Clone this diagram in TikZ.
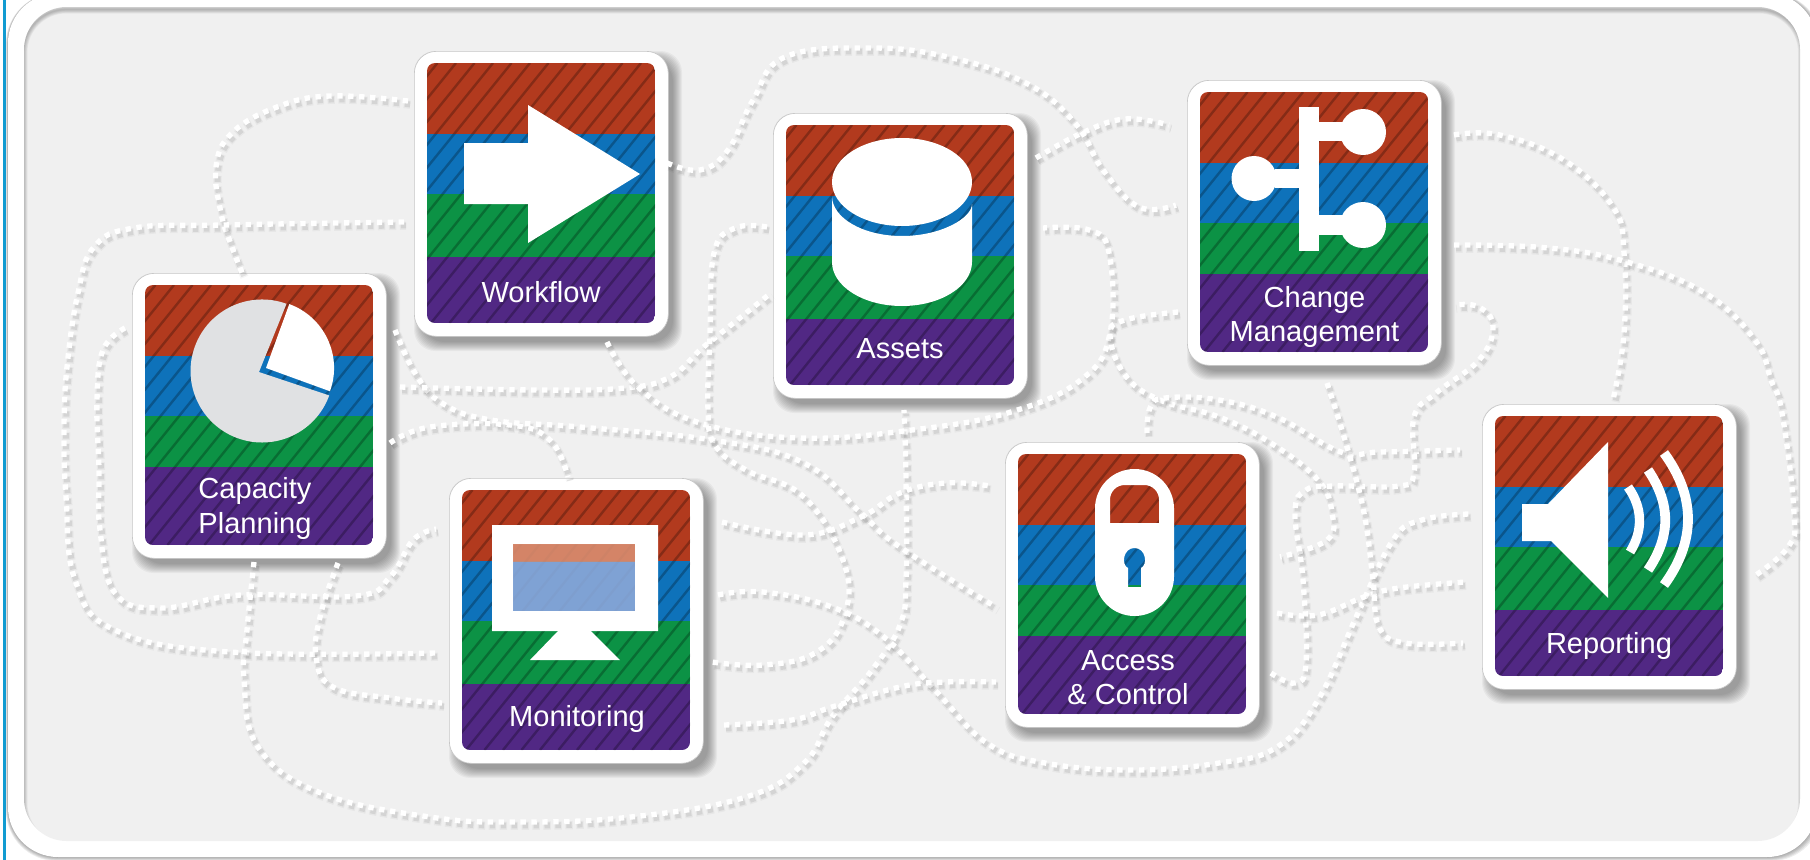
\documentclass[tikz,border=0pt]{standalone}
\usepackage{fontspec}
\setmainfont{Liberation Sans}
\definecolor{bandred}{HTML}{B23A1E}
\definecolor{bandblue}{HTML}{0E72BA}
\definecolor{bandgreen}{HTML}{0C9245}
\definecolor{bandpurple}{HTML}{512884}
\definecolor{panelgrey}{HTML}{F0F0F0}
\definecolor{piegrey}{HTML}{E0E1E3}
\definecolor{edgeblue}{HTML}{119BD1}
\definecolor{screenred}{HTML}{D98F72}
\definecolor{screenblue}{HTML}{8FA9D8}
\tikzset{
  cardnode/.style={fill=white,draw=black!22,line width=.5pt,rounded corners=16.5pt,inner sep=0pt,
    minimum width=190.5pt,minimum height=213.75pt,anchor=north west},
  cardshade/.style={fill=black,opacity=.04,rounded corners=16pt},
  stripe/.style={draw=black,opacity=.25,line width=1.8pt},
  lab/.style={text=white,inner sep=0pt,align=center,font=\fontsize{21.8}{26}\selectfont},
  icon/.style={fill=white,draw=none},
  dotwhite/.style={draw=white,line width=4pt,dash pattern=on 4pt off 4.2pt},
  dotshade/.style={draw=black,opacity=.08,line width=4.4pt,dash pattern=on 4pt off 4.2pt,
    transform canvas={shift={(1.6pt,-2.6pt)}}},
  dotblur/.style={draw=black,opacity=.035,line width=6.2pt,dash pattern=on 5.6pt off 2.6pt,dash phase=.8pt,
    transform canvas={shift={(1.6pt,-2.8pt)}}},
}
% name, left, top, top of the purple band relative to the card
\newcommand\makecard[4]{%
  \begin{scope}[shift={(#2,#3)}]
    \foreach \e in {0,...,9} \fill[cardshade] (\e,\e) rectangle (268-\e,300-\e);
    \node[cardnode] (#1) at (0,0) {};
    \begin{scope}
      \clip[rounded corners=6pt] (13,12) rectangle (241,272);
      \fill[bandred] (13,12) rectangle (241,83);
      \fill[bandblue] (13,83) rectangle (241,143);
      \fill[bandgreen] (13,143) rectangle (241,#4);
      \fill[bandpurple] (13,#4) rectangle (241,272);
      \foreach \s in {-205,-186.5,...,260} \draw[stripe] (\s,272) -- (\s+210,12);
    \end{scope}
  \end{scope}}
\newcommand\conn[1]{%
  \draw[dotblur] plot[smooth,tension=.7] coordinates {#1};
  \draw[dotshade] plot[smooth,tension=.7] coordinates {#1};
  \draw[dotwhite] plot[smooth,tension=.7] coordinates {#1};}
\begin{document}
\begin{tikzpicture}[x=0.75pt,y=-0.75pt]
\useasboundingbox (0,0) rectangle (1810,860);
\fill[white] (0,0) rectangle (1810,860);
% outer panel
\foreach \e in {0,...,5} \fill[black,opacity=.07,rounded corners=38pt] (8-.4*\e,-7) rectangle (1817+\e,857+.8*\e);
\fill[white,rounded corners=37.5pt] (8,-7) rectangle (1817,857);
\fill[edgeblue] (3,0) rectangle (5.5,860);
% inner panel
\fill[panelgrey,rounded corners=32pt] (24,7) rectangle (1800,841);
\begin{scope}
  \clip[rounded corners=32pt] (24,7) rectangle (1800,841);
  \foreach \w in {1,2,...,6}
    \draw[black,opacity=.045,line width=\w*1pt,rounded corners=32pt] (23.5,9.5) rectangle (1802,846);
\end{scope}
% cards
\makecard{wf}{414}{51}{206}
\makecard{cap}{132}{273}{194}
\makecard{as}{773}{113}{206}
\makecard{chg}{1187}{80}{194}
\makecard{mon}{449}{478}{206}
\makecard{acc}{1005}{442}{194}
\makecard{rep}{1482}{404}{206}
% labels
\node[lab] (wflab) at (541,292) {Workflow};
\node[lab] (caplab) at (255,508.5) {Capacity\\Planning};
\node[lab] (aslab) at (900,349) {Assets};
\node[lab] (chglab) at (1314.5,317) {Change\\Management};
\node[lab] (monlab) at (577,719) {Monitoring};
\node[lab] (acclab) at (1128,677.5) {Access\\\& Control};
\node[lab] (replab) at (1609,646) {Reporting};
% workflow arrow
\fill[icon] (464,143) -- (528,143) -- (528,105) -- (640,174) -- (528,243) -- (528,204) -- (464,204) -- cycle;
% capacity pie
\fill[piegrey] (259,372) -- (286.5,303.8) arc[start angle=-70,end angle=-340,radius=71.5] -- cycle;
\fill[icon] (266,368) -- ++(23.3,-63.9) arc[start angle=-70,end angle=20,radius=68] -- cycle;
% assets cylinder
\fill[icon] (902,182) ellipse [x radius=70,y radius=44];
\fill[icon] (832,196) .. controls (832,218) and (863,236) .. (902,236) .. controls (941,236) and (972,218) .. (972,204)
  -- (972,262) .. controls (972,286) and (941,306) .. (902,306) .. controls (863,306) and (832,286) .. (832,262) -- cycle;
% change tree
\fill[icon] (1299,107) rectangle (1319,251);
\fill[icon] (1319,122) rectangle (1345,141);
\fill[icon] (1363,132) circle [radius=23];
\fill[icon] (1275,169) rectangle (1299,188);
\fill[icon] (1254,178.5) circle [radius=22.5];
\fill[icon] (1319,215) rectangle (1345,235);
\fill[icon] (1363,225) circle [radius=23];
% monitor
\fill[icon,even odd rule] (492,525) rectangle (658,631) (513,544) rectangle (635,611);
\fill[screenred,opacity=.88] (513,544) rectangle (635,561.5);
\fill[screenblue,opacity=.88] (513,561.5) rectangle (635,611);
\fill[icon] (558,631) -- (591,631) -- (620,660) -- (530,660) -- cycle;
% lock
\fill[icon,even odd rule] [rounded corners=29.6pt] (1095,469) rectangle (1174,616)
  [rounded corners=11pt] (1110,523) -- (1110,485) -- (1159,485) [sharp corners] -- (1159,523) -- cycle
  (1128,587) -- (1128,568) .. controls (1121,565) and (1123,548) .. (1134.5,548) .. controls (1146,548) and (1148,565) .. (1141,568) -- (1141,587) -- cycle;
% speaker
\fill[icon] (1522,504) -- (1548,504) -- (1608,442) -- (1608,598) -- (1551,541) -- (1522,541) -- cycle;
\draw[white,line width=7pt] (1628,487) .. controls (1643,508) and (1643,531) .. (1630,552);
\draw[white,line width=7.3pt] (1648,470) .. controls (1671,504) and (1671,536) .. (1648,570);
\draw[white,line width=7.3pt] (1664,453) .. controls (1696,497) and (1696,541) .. (1664,585);
% connector ends
\coordinate (a1) at (408,101);   \coordinate (b1) at (243,275);
\coordinate (a2) at (404,222);   \coordinate (b2) at (436,653);
\coordinate (a3) at (125,328);   \coordinate (b3) at (436,529);
\coordinate (a4) at (254,562);   \coordinate (b4) at (904,410);
\coordinate (a5) at (338,563);   \coordinate (b5) at (442,703);
\coordinate (a6) at (395,330);   \coordinate (b6) at (996,607);
\coordinate (a7) at (390,443);   \coordinate (b7) at (568,477);
\coordinate (a8) at (400,387);   \coordinate (b8) at (771,293);
\coordinate (a9) at (607,342);   \coordinate (b9) at (1043,228);
\coordinate (a10) at (767,227);  \coordinate (b10) at (712,662);
\coordinate (a11) at (722,522);  \coordinate (b11) at (990,486);
\coordinate (a12) at (718,595);  \coordinate (b12) at (1469,514);
\coordinate (a13) at (724,725);  \coordinate (b13) at (996,682);
\coordinate (a14) at (1036,158); \coordinate (b14) at (1169,125);
\coordinate (a15) at (667,163);  \coordinate (b15) at (1176,205);
\coordinate (a16) at (1178,312); \coordinate (b16) at (1280,557);
\coordinate (a17) at (1147,433); \coordinate (b17) at (1460,450);
\coordinate (a18) at (1271,673); \coordinate (b18) at (1454,305);
\coordinate (a19) at (1277,613); \coordinate (b19) at (1466,582);
\coordinate (a20) at (1327,383); \coordinate (b20) at (1463,643);
\coordinate (a21) at (1454,135); \coordinate (b21) at (1613,400);
\coordinate (a22) at (1454,245); \coordinate (b22) at (1753,577);
% connectors
\conn{(a1) (330,96) (277,107) (232,133) (216,167) (221,213) (232,247) (b1)}
\conn{(a2) (223,225) (134,228) (94,247) (78,293) (67,367) (64,430) (66,497) (75,580) (115,630) (230,652) (b2)}
\conn{(a3) (103,350) (97,400) (99,470) (100,530) (115,593) (161,608) (241,595) (356,596) (390,577) (413,540) (b3)}
\conn{(a4) (247,630) (244,680) (258,747) (321,793) (430,817) (517,822) (631,817) (746,797) (804,763) (832,717) (872,670) (900,625) (906,580) (906,480) (b4)}
\conn{(a5) (321,613) (316,657) (333,687) (390,698) (b5)}
\conn{(a6) (415,373) (442,403) (491,420) (580,427) (712,440) (804,463) (861,513) (900,547) (b6)}
\conn{(a7) (430,427) (510,425) (550,440) (b7)}
\conn{(a8) (536,390) (625,388) (670,377) (700,350) (721,333) (b8)}
\conn{(a9) (638,387) (700,423) (800,438) (912,430) (1011,412) (1082,379) (1110,333) (1109,253) (1089,230) (b9)}
\conn{(a10) (735,228) (714,253) (710,333) (708,410) (715,445) (746,470) (804,497) (844,563) (844,617) (815,653) (763,665) (b10)}
\conn{(a11) (804,535) (861,517) (900,493) (946,483) (b11)}
\conn{(a12) (763,592) (832,607) (884,637) (935,690) (987,743) (1045,763) (1132,770) (1219,763) (1277,747) (1318,700) (1358,613) (1393,540) (1422,520) (b12)}
\conn{(a13) (792,720) (832,707) (900,687) (946,682) (b13)}
\conn{(a14) (1082,133) (1125,119) (b14)}
\conn{(a15) (700,170) (728,150) (753,100) (785,57) (870,48) (948,57) (1026,83) (1075,123) (1103,170) (1139,207) (b15)}
\conn{(a16) (1125,320) (1110,335) (1125,375) (1160,400) (1219,417) (1271,443) (1318,480) (1332,513) (1327,540) (b16)}
\conn{(a17) (1150,408) (1165,398) (1219,400) (1277,417) (1341,452) (1380,452) (b17)}
\conn{(a18) (1295,683) (1306,663) (1303,580) (1295,513) (1306,490) (1335,486) (1399,486) (1414,473) (1414,417) (1436,393) (1479,360) (1493,327) (1479,307) (b18)}
\conn{(a19) (1318,615) (1364,597) (1399,588) (b19)}
\conn{(a20) (1347,447) (1364,513) (1373,580) (1379,627) (1405,643) (b20)}
\conn{(a21) (1500,135) (1564,160) (1613,207) (1624,253) (1624,333) (b21)}
\conn{(a22) (1549,248) (1627,262) (1705,293) (1755,340) (1771,380) (1782,413) (1794,513) (1788,547) (b22)}
\end{tikzpicture}
\end{document}
